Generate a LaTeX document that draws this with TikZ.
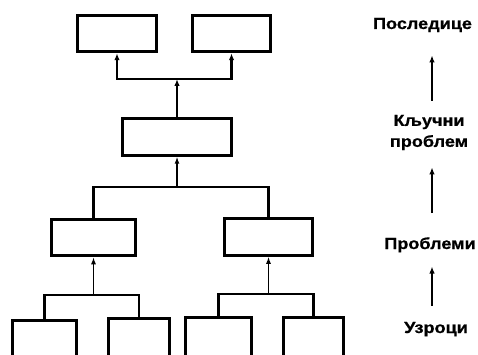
\documentclass[tikz,border=0pt]{standalone}
\usepackage{fontspec}
\newfontfamily\labelfont[FakeStretch=1.13, BoldFeatures={FakeBold=0.8}]{Liberation Sans}
\usetikzlibrary{arrows.meta,positioning}
\tikzset{
    box/.style={draw, line width=3pt, minimum height=36.5pt, inner sep=0pt},
    bar/.style={line width=2.8pt},
    upthick/.style={-{Latex[length=7pt, width=5.5pt]}, line width=2.8pt},
    upthin/.style={-{Latex[length=7pt, width=5pt]}, line width=1.3pt},
    tag/.style={font=\labelfont\bfseries\fontsize{16}{21}\selectfont, inner sep=0pt}
}

\begin{document}
\begin{tikzpicture}[x=1pt, y=-1pt]
    \clip (0,0) rectangle (478,355);
    % effects
    \node[box, minimum width=79pt] (c1) at (117,33.5) {};
    \node[box, minimum width=78pt] (c2) at (231.5,33.5) {};
    % key problem
    \node[box, minimum width=109pt] (k) at (177,137) {};
    % problems
    \node[box, minimum width=84pt] (p1) at (93.5,237.5) {};
    \node[box, minimum width=88pt] (p2) at (268.5,237) {};
    % causes
    \node[box, minimum width=64pt, minimum height=40pt] (b1) at (44.5,340) {};
    \node[box, minimum width=61pt, minimum height=40pt] (b2) at (139,338) {};
    \node[box, minimum width=66pt, minimum height=40pt] (b3) at (218.5,337) {};
    \node[box, minimum width=60pt, minimum height=40pt] (b4) at (313.5,337) {};

    \coordinate (t1) at (177,79);
    \coordinate (t2) at (177,187);
    \coordinate (t3) at (93.5,295);
    \coordinate (t4) at (268.5,294);

    \draw[upthick] (k.north) -- (t1);
    \draw[upthick] (t1) -| (c1.south);
    \draw[upthick] (t1) -| (c2.south);

    \draw[bar] (p1.north) |- (t2) -| (p2.north);
    \draw[upthin] (t2) -- (k.south);

    \draw[bar] (b1.north) |- (t3) -| (b2.north);
    \draw[upthin] (t3) -- (p1.south);
    \draw[bar] (b3.north) |- (t4) -| (b4.north);
    \draw[upthin] (t4) -- (p2.south);

    % levels
    \node[tag, anchor=base] (l1) at (422.5,29) {Последице};
    \node[tag, align=center] (l2) at (429,132.5) {Кључни\\проблем};
    \node[tag, anchor=base] (l3) at (430,249) {Проблеми};
    \node[tag, anchor=base] (l4) at (436,333) {Узроци};

    \coordinate (ax) at (432,0);
    \draw[upthick, shorten <=14pt, shorten >=23pt] (l2.north -| ax) -- (l1.south -| ax);
    \draw[upthick, shorten <=24pt, shorten >=17pt] (l3.north -| ax) -- (l2.south -| ax);
    \draw[upthick, shorten <=16pt, shorten >=14pt] (l4.north -| ax) -- (l3.south -| ax);
\end{tikzpicture}
\end{document}
